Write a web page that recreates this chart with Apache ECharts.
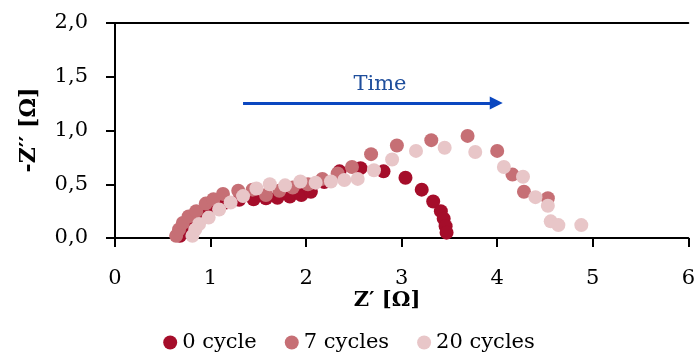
<!DOCTYPE html>
<html>
<head>
<meta charset="utf-8">
<script src="https://cdn.jsdelivr.net/npm/echarts@6/dist/echarts.min.js"></script>
<style>
  html, body { margin: 0; padding: 0; background: #fff; }
  #chart { width: 698px; height: 356px; }
</style>
</head>
<body>
<div id="chart"></div>
<script>
// Nyquist plots: Z' (real) vs -Z'' (imaginary), in ohms
const seriesNames = ['0 cycle', '7 cycles', '20 cycles'];
const seriesColors = ['#A50D2A', '#C66F75', '#E8C6C8'];

const cycle0 = [
  [0.68, 0.02], [0.72, 0.08], [0.78, 0.14], [0.86, 0.19], [0.95, 0.24],
  [1.05, 0.29], [1.16, 0.33], [1.30, 0.355], [1.45, 0.36], [1.58, 0.37],
  [1.70, 0.375], [1.83, 0.385], [1.95, 0.40], [2.05, 0.43], [2.19, 0.52],
  [2.35, 0.62], [2.57, 0.65], [2.81, 0.62], [3.04, 0.56], [3.21, 0.45],
  [3.33, 0.34], [3.41, 0.25], [3.44, 0.18], [3.46, 0.11], [3.47, 0.05]
];

const cycle7 = [
  [0.64, 0.02], [0.67, 0.08], [0.71, 0.14], [0.77, 0.20], [0.85, 0.25],
  [0.95, 0.32], [1.03, 0.36], [1.13, 0.41], [1.29, 0.44], [1.44, 0.45],
  [1.58, 0.40], [1.72, 0.44], [1.86, 0.47], [2.02, 0.50], [2.17, 0.55],
  [2.33, 0.60], [2.48, 0.66], [2.68, 0.78], [2.95, 0.86], [3.31, 0.91],
  [3.69, 0.95], [4.00, 0.81], [4.16, 0.59], [4.28, 0.43], [4.53, 0.37]
];

const cycle20 = [
  [0.81, 0.02], [0.84, 0.08], [0.88, 0.13], [0.98, 0.19], [1.09, 0.265],
  [1.21, 0.33], [1.34, 0.39], [1.48, 0.46], [1.62, 0.50], [1.78, 0.49],
  [1.94, 0.525], [2.10, 0.515], [2.26, 0.525], [2.40, 0.54], [2.54, 0.55],
  [2.71, 0.63], [2.90, 0.73], [3.15, 0.81], [3.45, 0.84], [3.77, 0.80],
  [4.07, 0.66], [4.27, 0.57], [4.40, 0.38], [4.53, 0.30], [4.56, 0.155],
  [4.64, 0.12], [4.88, 0.12]
];

// "Time" arrow, in data coordinates
const timeArrow = [[1.34, 1.256], [3.99, 1.256]];

const xTicks = { min: 0, max: 6, interval: 1 };
const yTicks = { min: 0, max: 2, interval: 0.5 };

const serif = 'DejaVu Serif';
const fmtComma = v => v.toFixed(1).replace('.', ',');

const chart = echarts.init(document.getElementById('chart'), null, { renderer: 'canvas' });

const dataSets = [cycle0, cycle7, cycle20];
const series = dataSets.map((d, i) => ({
  name: seriesNames[i],
  type: 'scatter',
  data: d,
  symbol: 'circle',
  symbolSize: 14,
  itemStyle: { color: seriesColors[i], opacity: 1 },
  z: 2 + i
}));

series.push({
  type: 'line',
  data: [],
  silent: true,
  markLine: {
    silent: true,
    symbol: ['none', 'triangle'],
    symbolSize: [13, 13],
    symbolOffset: [0, 0],
    label: { show: false },
    lineStyle: { color: '#0B47C0', width: 3, type: 'solid' },
    emphasis: { disabled: true },
    data: [[
      { coord: timeArrow[0] },
      { coord: timeArrow[1] }
    ]]
  }
});

chart.setOption({
  animation: false,
  backgroundColor: '#ffffff',
  grid: { left: 115, right: 1, top: 23, bottom: 118, containLabel: false },
  xAxis: [{
    type: 'value',
    min: xTicks.min, max: xTicks.max, interval: xTicks.interval,
    axisLine: { show: true, onZero: false, lineStyle: { color: '#000', width: 2 } },
    axisTick: { show: true, inside: false, length: 9, lineStyle: { color: '#000', width: 2 } },
    axisLabel: { color: '#000', fontFamily: serif, fontSize: 21, margin: 30,
                 showMaxLabel: true, showMinLabel: true },
    splitLine: { show: false }
  }, {
    type: 'value', position: 'top',
    min: xTicks.min, max: xTicks.max,
    axisLine: { show: true, onZero: false, lineStyle: { color: '#000', width: 2 } },
    axisTick: { show: false }, axisLabel: { show: false }, splitLine: { show: false }
  }],
  yAxis: {
    type: 'value',
    min: yTicks.min, max: yTicks.max, interval: yTicks.interval,
    axisLine: { show: true, onZero: false, lineStyle: { color: '#000', width: 2 } },
    axisTick: { show: true, inside: false, length: 9, lineStyle: { color: '#000', width: 2 } },
    axisLabel: { color: '#000', fontFamily: serif, fontSize: 21, margin: 27, formatter: fmtComma },
    splitLine: { show: false }
  },
  legend: {
    data: seriesNames,
    bottom: -2,
    left: 'center',
    icon: 'circle',
    itemWidth: 14,
    itemHeight: 14,
    itemGap: 28,
    textStyle: { color: '#000', fontFamily: serif, fontSize: 21 }
  },
  graphic: [
    {
      type: 'text', x: 387, y: 301,
      style: { text: 'Z′ [Ω]', fill: '#000', font: 'bold 21px "DejaVu Serif"', align: 'center', verticalAlign: 'middle' }
    },
    {
      type: 'text', x: 29, y: 130, rotation: Math.PI / 2,
      style: { text: '-Z′′ [Ω]', fill: '#000', font: 'bold 22px "DejaVu Serif"', align: 'center', verticalAlign: 'middle' }
    },
    {
      type: 'text', x: 380, y: 85,
      style: { text: 'Time', fill: '#1F4E9C', font: '21px "DejaVu Serif"', align: 'center', verticalAlign: 'middle' }
    }
  ],
  series: series
});
</script>
</body>
</html>
